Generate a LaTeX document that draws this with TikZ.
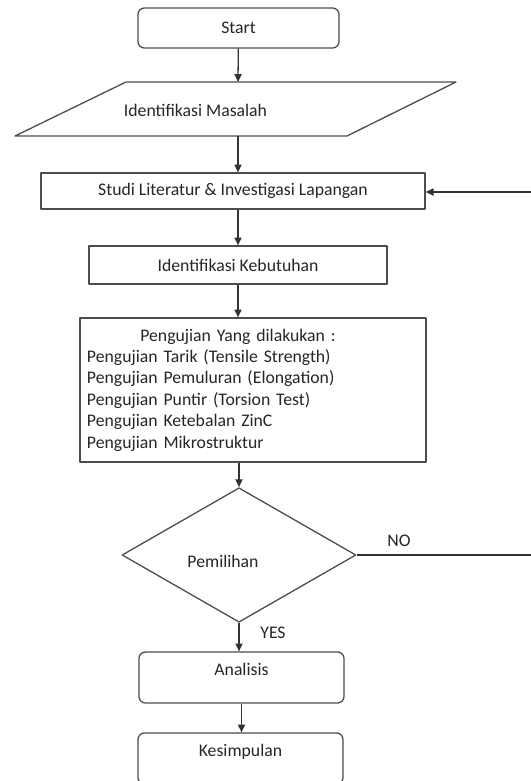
\documentclass[tikz,border=0pt]{standalone}
\usepackage{tikz}
\usepackage{fontspec}
\setmainfont{Carlito}
\usetikzlibrary{shapes.geometric, arrows.meta}
\tikzstyle{every node} = [font = \fontsize{12.4}{15}\selectfont, text = black!85]
\tikzstyle{box} = [draw = black!70, line width = 0.9pt, rectangle, inner sep = 0pt]
\tikzstyle{roundbox} = [box, rounded corners = 4.5pt]
\tikzstyle{link} = [draw = black!80, line width = 0.9pt, -{Triangle[length = 5.5pt, width = 5pt]}]

\begin{document}
\begin{tikzpicture}[x = 0.7pt, y = -0.7pt, line join = round]
        \clip (0, 0) rectangle (531, 781);
        \fill [white] (0, 0) rectangle (531, 781);

        \node [roundbox, minimum width = 140.7pt, minimum height = 28pt] (start) at (238.5, 28) {Start};

        \draw [box] (126, 82) -- (456, 82) -- (347, 136) -- (15, 136) -- cycle;
        \node (masalah) at (195.5, 110) {Identifikasi Masalah};
        \coordinate (masalahtop) at (238, 82);
        \coordinate (masalahbottom) at (238, 136);

        \node [box, minimum width = 268.8pt, minimum height = 25.2pt] (studi) at (233, 191) {Studi Literatur \& Investigasi Lapangan};
        \node [box, minimum width = 208.6pt, minimum height = 26.6pt] (kebutuhan) at (238, 265) {Identifikasi Kebutuhan};
        \node [box, minimum width = 242.2pt, minimum height = 100.8pt, inner xsep = 4.9pt, text width = 232.4pt, align = left] (pengujian) at (253, 390)
        {
            \makebox[211.4pt][c]{Pengujian Yang dilakukan :}\\
            Pengujian Tarik (Tensile Strength)\\
            Pengujian Pemuluran (Elongation)\\
            Pengujian Puntir (Torsion Test)\\
            Pengujian Ketebalan ZinC\\
            Pengujian Mikrostruktur
        };
        \node [box, diamond, minimum width = 163.8pt, minimum height = 81.2pt, text height = 20pt, text depth = 2pt] (pemilihan) at (239, 555) {Pemilihan\hspace*{22.4pt}};
        \node [roundbox, minimum width = 143.5pt, text height = 16.1pt, text depth = 19.6pt] (analisis) at (241.5, 677.5) {Analisis};
        \node [roundbox, minimum width = 143.5pt, text height = 16.1pt, text depth = 19.6pt] (kesimpulan) at (240.5, 758.5) {Kesimpulan};

        \coordinate (noend) at (531, 555);
        \coordinate (backstart) at (531, 192);
        \node (no) at (399, 541) {NO};
        \node (yes) at (273, 633) {YES};

        \draw [link] (start) -- (masalahtop);
        \draw [link] (masalahbottom) -- (masalahbottom |- studi.north);
        \draw [link] (kebutuhan |- studi.south) -- (kebutuhan);
        \draw [link] (kebutuhan) -- (kebutuhan |- pengujian.north);
        \draw [link] (pemilihan |- pengujian.south) -- (pemilihan);
        \draw [link] (pemilihan) -- (pemilihan |- analisis.north);
        \draw [link] (analisis) -- (analisis |- kesimpulan.north);
        \draw [link, -] (pemilihan) -- (noend);
        \draw [link] (backstart) -- (backstart -| studi.east);
    \end{tikzpicture}
\end{document}
